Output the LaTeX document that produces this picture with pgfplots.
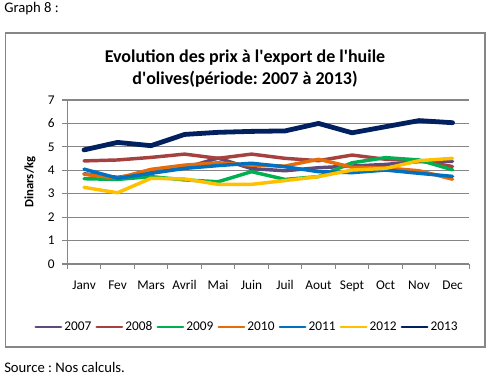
\documentclass[border=0pt]{standalone}
\usepackage{pgfplots}
\pgfplotsset{compat=1.18}
\usepackage{fontspec}
\setmainfont{Carlito}
\definecolor{c2007}{HTML}{604A7B}
\definecolor{c2008}{HTML}{A5423F}
\definecolor{c2009}{HTML}{00B050}
\definecolor{c2010}{HTML}{E46C0A}
\definecolor{c2011}{HTML}{0070C0}
\definecolor{c2012}{HTML}{FFC000}
\definecolor{c2013}{HTML}{002060}
\definecolor{gridgray}{HTML}{868686}
\frenchspacing
\begin{document}
\begin{tikzpicture}[x=0.75pt,y=0.75pt]
\path (0,0) rectangle (487,377);
\coordinate (A) at (67.3,113);
\draw[gridgray, line width=0.8pt] (5.3,30) rectangle (485,344);
\node[anchor=base west, font=\fontsize{11}{13}\selectfont, inner sep=0pt] at (4,364) {Graph 8 :};
\node[anchor=base west, font=\fontsize{11}{13}\selectfont, inner sep=0pt] at (4,4) {Source : Nos calculs.};
\node[anchor=base, font=\fontsize{13.5}{16}\selectfont\bfseries, inner sep=0pt] at (245,314) {Evolution des prix à l\textquotesingle export de l\textquotesingle huile};
\node[anchor=base, font=\fontsize{13.5}{16}\selectfont\bfseries, inner sep=0pt] at (245,292) {d\textquotesingle olives(période: 2007 à 2013)};
\node[rotate=90, font=\fontsize{9.5}{11}\selectfont\bfseries, inner sep=0pt] at (30,195) {Dinars/kg};
\begin{axis}[
  at={(A)}, anchor=south west,
  scale only axis, width=301.5pt, height=123pt,
  xmin=-0.5, xmax=11.5, ymin=0, ymax=7,
  axis x line=bottom, axis y line=left,
  axis line style={gridgray, line width=0.8pt, -},
  xtick={0,...,11},
  xticklabels={Janv,Fev,Mars,Avril,Mai,Juin,Juil,Aout,Sept,Oct,Nov,Dec},
  major x tick style={draw=none},
  minor xtick={-0.5,0.5,...,11.5},
  minor x tick style={gridgray, line width=0.8pt},
  minor tick length=4pt,
  ytick={0,...,7},
  major y tick style={gridgray, line width=0.8pt},
  major tick length=4pt,
  tick align=outside,
  ymajorgrids, grid style={gridgray, line width=0.8pt},
  tick label style={font=\fontsize{10}{12}\selectfont},
  xticklabel style={yshift=-5pt},
  yticklabel style={xshift=-2pt},
  /pgf/number format/assume math mode=true,
  clip=false,
  legend columns=7,
  legend style={at={(axis description cs:0.447,-0.384)}, anchor=center, draw=none, fill=none,
    font=\fontsize{10}{12}\selectfont, inner sep=0pt,
    nodes={inner sep=1.5pt},
    /tikz/every odd column/.append style={column sep=0pt},
    /tikz/every even column/.append style={column sep=1.5pt}},
  legend image code/.code={\draw[#1, line width=2pt] (0pt,0pt) -- (19pt,0pt);},
  every axis plot/.append style={line width=2.6pt, line join=round, line cap=round, mark=none},
]
\addplot[c2007] coordinates {(0,3.85) (1,3.7) (2,3.9) (3,4.1) (4,4.52) (5,4.07) (6,3.98) (7,4.11) (8,4.18) (9,4.25) (10,4.37) (11,4.38)};
\addplot[c2008] coordinates {(0,4.40) (1,4.44) (2,4.55) (3,4.69) (4,4.51) (5,4.69) (6,4.51) (7,4.41) (8,4.65) (9,4.47) (10,4.41) (11,4.16)};
\addplot[c2009] coordinates {(0,3.64) (1,3.61) (2,3.73) (3,3.59) (4,3.51) (5,3.94) (6,3.61) (7,3.73) (8,4.32) (9,4.54) (10,4.44) (11,4.02)};
\addplot[c2010] coordinates {(0,3.83) (1,3.66) (2,4.04) (3,4.22) (4,4.32) (5,4.22) (6,4.18) (7,4.47) (8,4.13) (9,4.10) (10,3.98) (11,3.62)};
\addplot[c2011] coordinates {(0,4.05) (1,3.66) (2,3.87) (3,4.08) (4,4.20) (5,4.30) (6,4.15) (7,3.94) (8,3.90) (9,4.01) (10,3.87) (11,3.74)};
\addplot[c2012] coordinates {(0,3.27) (1,3.04) (2,3.66) (3,3.63) (4,3.40) (5,3.40) (6,3.56) (7,3.73) (8,4.01) (9,4.08) (10,4.41) (11,4.51)};
\addplot[c2013, line width=3.6pt] coordinates {(0,4.87) (1,5.19) (2,5.05) (3,5.53) (4,5.62) (5,5.66) (6,5.68) (7,6.00) (8,5.60) (9,5.86) (10,6.12) (11,6.03)};
\legend{2007,2008,2009,2010,2011,2012,2013}
\end{axis}
\end{tikzpicture}
\end{document}
